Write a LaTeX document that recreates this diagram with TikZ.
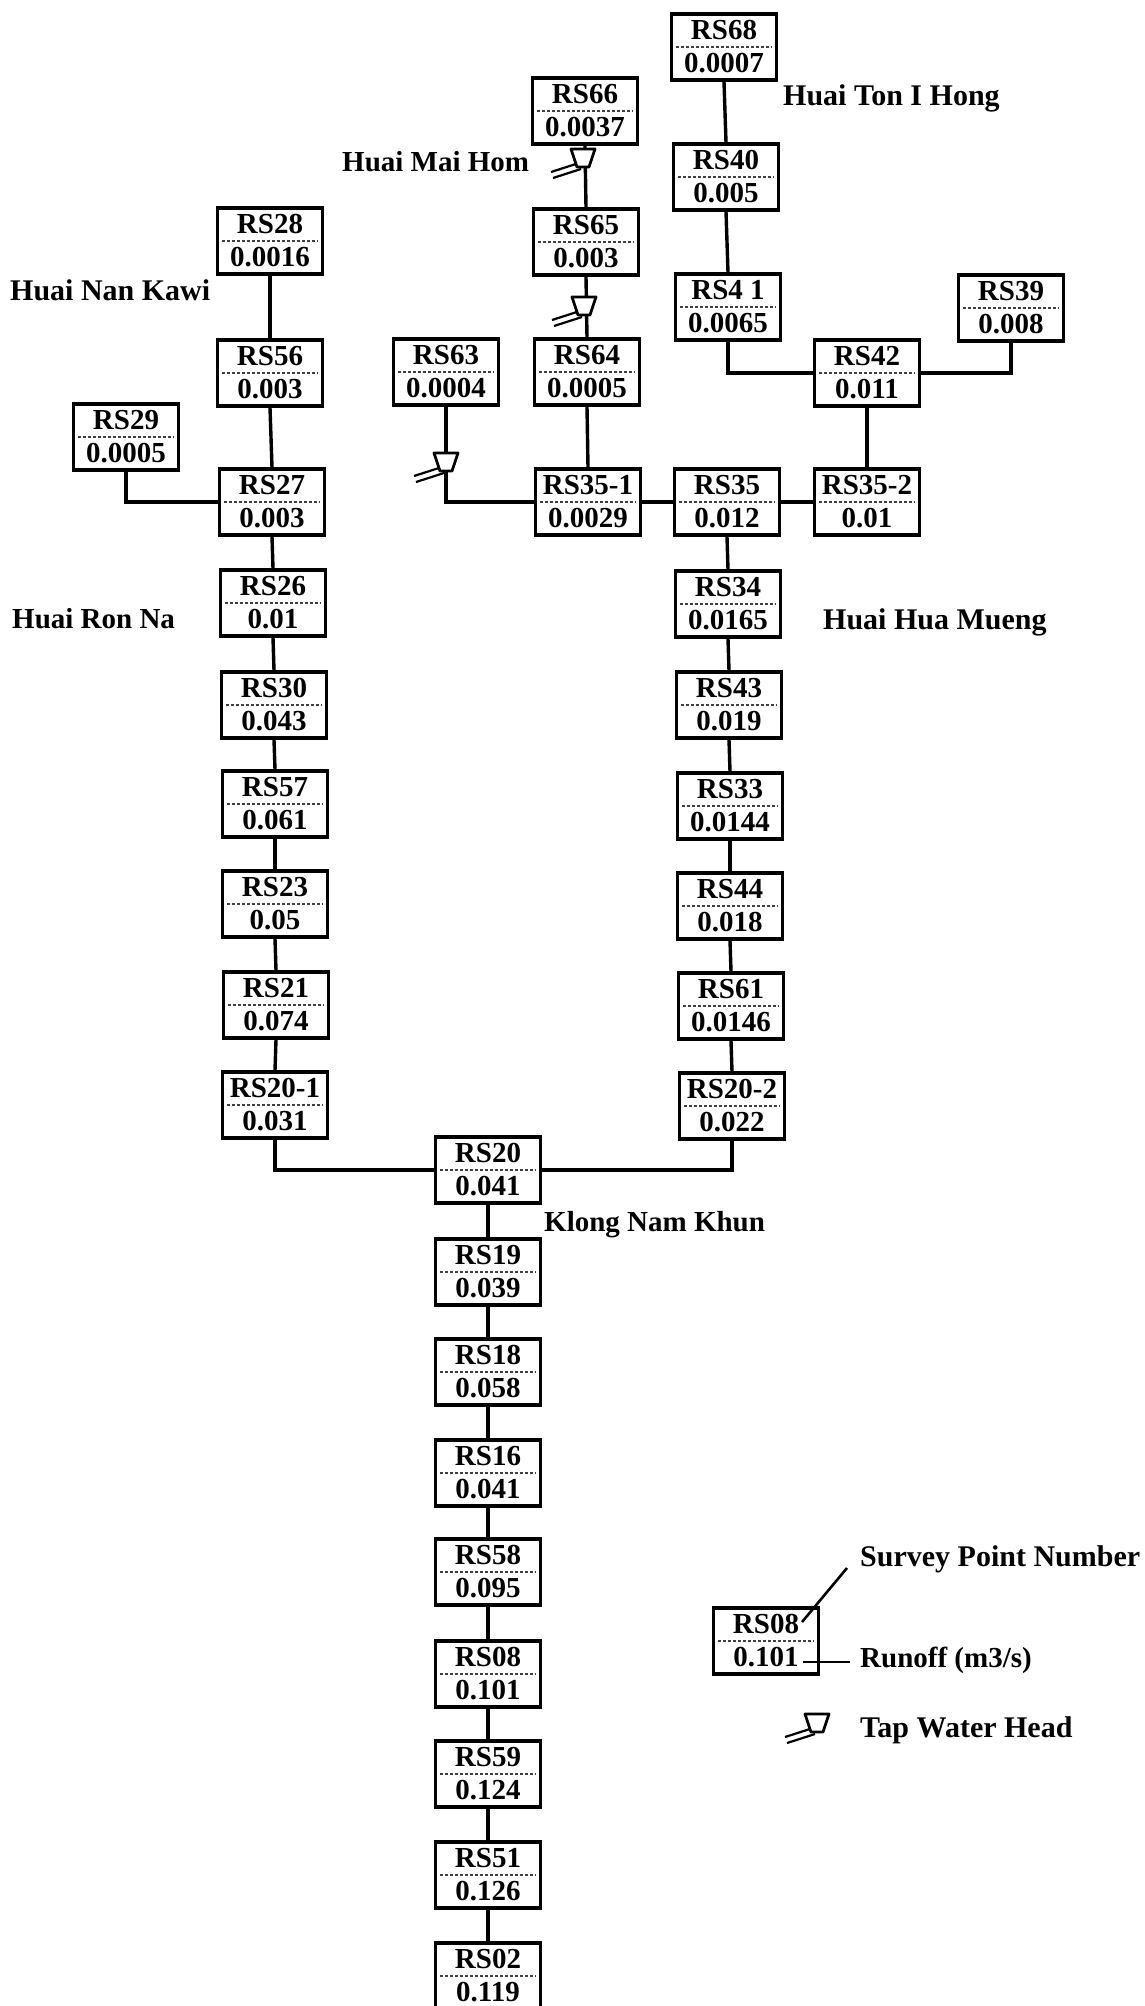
\documentclass[tikz,border=0pt]{standalone}
\usepackage{fontspec}
\setmainfont{Liberation Serif}
\begin{document}
\begin{tikzpicture}[x=1pt,y=-1pt,
  rsbox/.style={draw=black,line width=3.4pt,fill=white,minimum width=105pt,minimum height=66pt,inner sep=0pt,align=center,font=\fontsize{29}{33}\selectfont\bfseries},
  divider/.style={draw=black!75,line width=1.1pt,densely dashed,shorten >=6pt,shorten <=6pt},
  link/.style={draw=black,line width=3.4pt},
  leader/.style={draw=black,line width=2.6pt},
  lbl/.style={anchor=west,inner sep=0pt,font=\fontsize{30}{33}\selectfont\bfseries},
  lblnarrow/.style={lbl,font=\fontsize{29}{33}\selectfont\bfseries},
  tapbody/.style={draw=black,line width=2.8pt,fill=white,line join=round},
  tappipe/.style={draw=black,line width=2.2pt},
  tapmark/.pic={
    \draw[tappipe] (-32,14) -- (-4,5);
    \draw[tappipe] (-30,20) -- (-2,11);
    \draw[tapbody] (-12,-9) -- (12,-9) -- (6,9) -- (-6,9) -- cycle;
  }]
\useasboundingbox (0,0) rectangle (1144,2006);
\fill[white] (0,0) rectangle (1144,2006);

% tap positions
\coordinate (tapA) at (583,158);
\coordinate (tapB) at (584,306);
\coordinate (tapC) at (446,462);
\coordinate (tapD) at (817,1723);

% boxes
\node[rsbox] (rs68) at (724,47) {RS68\\0.0007};
\node[rsbox] (rs66) at (585,111) {RS66\\0.0037};
\node[rsbox] (rs40) at (726,177) {RS40\\0.005};
\node[rsbox] (rs65) at (586,242) {RS65\\0.003};
\node[rsbox] (rs41) at (728,307) {RS4 1\\0.0065};
\node[rsbox] (rs39) at (1011,308) {RS39\\0.008};
\node[rsbox] (rs28) at (270,241) {RS28\\0.0016};
\node[rsbox] (rs64) at (587,372) {RS64\\0.0005};
\node[rsbox] (rs63) at (446,372) {RS63\\0.0004};
\node[rsbox] (rs42) at (867,373) {RS42\\0.011};
\node[rsbox] (rs56) at (270,373) {RS56\\0.003};
\node[rsbox] (rs29) at (126,437) {RS29\\0.0005};
\node[rsbox] (rs27) at (272,502) {RS27\\0.003};
\node[rsbox] (rs351) at (588,502) {RS35-1\\0.0029};
\node[rsbox] (rs35) at (727,502) {RS35\\0.012};
\node[rsbox] (rs352) at (867,502) {RS35-2\\0.01};
\node[rsbox] (rs26) at (273,603) {RS26\\0.01};
\node[rsbox] (rs34) at (728,604) {RS34\\0.0165};
\node[rsbox] (rs30) at (274,705) {RS30\\0.043};
\node[rsbox] (rs43) at (729,705) {RS43\\0.019};
\node[rsbox] (rs57) at (275,804) {RS57\\0.061};
\node[rsbox] (rs33) at (730,806) {RS33\\0.0144};
\node[rsbox] (rs23) at (275,904) {RS23\\0.05};
\node[rsbox] (rs44) at (730,906) {RS44\\0.018};
\node[rsbox] (rs21) at (276,1005) {RS21\\0.074};
\node[rsbox] (rs61) at (731,1006) {RS61\\0.0146};
\node[rsbox] (rs201) at (275,1105) {RS20-1\\0.031};
\node[rsbox] (rs202) at (732,1106) {RS20-2\\0.022};
\node[rsbox] (rs20) at (488,1170) {RS20\\0.041};
\node[rsbox] (rs19) at (488,1272) {RS19\\0.039};
\node[rsbox] (rs18) at (488,1372) {RS18\\0.058};
\node[rsbox] (rs16) at (488,1473) {RS16\\0.041};
\node[rsbox] (rs58) at (488,1572) {RS58\\0.095};
\node[rsbox] (rs08) at (488,1674) {RS08\\0.101};
\node[rsbox] (rs59) at (488,1774) {RS59\\0.124};
\node[rsbox] (rs51) at (488,1875) {RS51\\0.126};
\node[rsbox] (rs02) at (488,1976) {RS02\\0.119};
\node[rsbox] (legend) at (766,1641) {RS08\\0.101};

\foreach \n in {rs68,rs66,rs40,rs65,rs41,rs39,rs28,rs64,rs63,rs42,rs56,rs29,rs27,rs351,rs35,rs352,rs26,rs34,rs30,rs43,rs57,rs33,rs23,rs44,rs21,rs61,rs201,rs202,rs20,rs19,rs18,rs16,rs58,rs08,rs59,rs51,rs02,legend}
  \draw[divider] (\n.west) -- (\n.east);

% connectors
\foreach \a/\b in {rs68/rs40,rs40/rs41,rs66/rs65,rs65/rs64,rs28/rs56,rs56/rs27,rs27/rs26,rs26/rs30,rs30/rs57,rs57/rs23,rs23/rs21,rs21/rs201,rs35/rs34,rs34/rs43,rs43/rs33,rs33/rs44,rs44/rs61,rs61/rs202,rs42/rs352,rs64/rs351,rs20/rs19,rs19/rs18,rs18/rs16,rs16/rs58,rs58/rs08,rs08/rs59,rs59/rs51,rs51/rs02}
  \draw[link] (\a.south) -- (\b.north);
\draw[link] (rs41.south) |- (rs42.west);
\draw[link] (rs39.south) |- (rs42.east);
\draw[link] (rs352.west) -- (rs35.east);
\draw[link] (rs35.west) -- (rs351.east);
\draw[link] (rs63.south) |- (rs351.west);
\draw[link] (rs29.south) |- (rs27.west);
\draw[link] (rs201.south) |- (rs20.west);
\draw[link] (rs202.south) |- (rs20.east);

% taps
\pic at (tapA) {tapmark};
\pic at (tapB) {tapmark};
\pic at (tapC) {tapmark};
\pic at (tapD) {tapmark};

% labels
\node[lbl] (tonihong) at (783,98) {Huai Ton I Hong};
\node[lblnarrow] (maihom) at (342,162) {Huai Mai Hom};
\node[lbl] (nankawi) at (10,290) {Huai Nan Kawi};
\node[lblnarrow] (ronna) at (12,619) {Huai Ron Na};
\node[lbl] (huamueng) at (823,622) {Huai Hua Mueng};
\node[lblnarrow] (klong) at (544,1225) {Klong Nam Khun};
\node[lbl] (survey) at (860,1559) {Survey Point Number};
\node[lblnarrow] (runoff) at (860,1660) {Runoff (m3/s)};
\node[lbl] (taphead) at (860,1730) {Tap Water Head};

% legend leaders
\coordinate (surveyend) at (847,1568);
\coordinate (surveystart) at (802,1622);
\coordinate (runoffend) at (850,1662);
\coordinate (runoffstart) at (803,1662);
\draw[leader] (surveystart) -- (surveyend);
\draw[leader] (runoffstart) -- (runoffend);
\end{tikzpicture}
\end{document}
